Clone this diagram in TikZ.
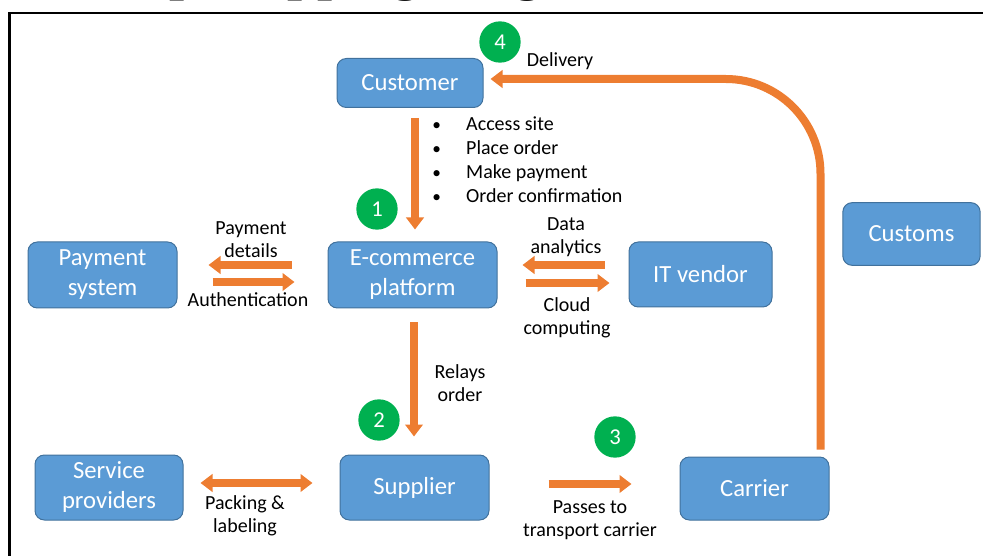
\documentclass[tikz,border=0pt]{standalone}
\usepackage{fontspec}
\setmainfont{Carlito}
\newfontfamily\titlefont{Liberation Serif}
\usetikzlibrary{arrows.meta}
\definecolor{boxblue}{HTML}{5B9BD5}
\definecolor{boxedge}{HTML}{41719C}
\definecolor{arrorange}{HTML}{ED7D31}
\definecolor{stepgreen}{HTML}{00B050}
\tikzset{
 box/.style={draw=boxedge, line width=0.75pt, fill=boxblue, rounded corners=7pt, text=white, align=center, font=\fontsize{18.5}{22.5}\selectfont, inner sep=0pt},
 arr/.style={draw=arrorange, line width=6pt, -{Triangle[width=13pt,length=9pt]}},
 dblarr/.style={draw=arrorange, line width=6pt, {Triangle[width=13pt,length=9pt]}-{Triangle[width=13pt,length=9pt]}},
 lbl/.style={align=center, font=\fontsize{15}{17.25}\selectfont, inner sep=0pt},
 num/.style={circle, fill=stepgreen, text=white, minimum size=31pt, inner sep=0pt, font=\fontsize{17}{17}\selectfont},
}
\newcommand{\smallbul}{{\fontsize{13}{18}\selectfont\textbullet}}
\begin{document}
\begin{tikzpicture}[x=0.75pt, y=-0.75pt]
\useasboundingbox (0,0) rectangle (983,556);
% cut-off title and frame
\node[anchor=base west, inner sep=0pt, font=\titlefont\bfseries\fontsize{40.5}{40}\selectfont] (title) at (80,-10.5) {Drop Shipping Diagram};
\draw[line width=1.9pt] (1000,13) -- (9.5,13) -- (9.5,570);

% boxes
\node[box, minimum width=109.5pt, minimum height=36.75pt] (customer) at (410,83) {Customer};
\node[box, minimum width=111.75pt, minimum height=49.5pt] (pay) at (102.5,275) {Payment\\system};
\node[box, minimum width=126.75pt, minimum height=49.5pt] (ecom) at (412.5,275) {E-commerce\\platform};
\node[box, minimum width=107.25pt, minimum height=48.75pt] (it) at (700.5,274.5) {IT vendor};
\node[box, minimum width=103pt, minimum height=47pt] (customs) at (911.5,234) {Customs};
\node[box, minimum width=111pt, minimum height=48.75pt] (service) at (109,487.5) {Service\\providers};
\node[box, minimum width=111.75pt, minimum height=48.75pt] (supplier) at (414.5,487.5) {Supplier};
\node[box, minimum width=111.75pt, minimum height=47.25pt] (carrier) at (754.5,488.5) {Carrier};

% arrows
\draw[arr] ([shift={(5,10)}]customer.south) -- ([shift={(2.5,-12)}]ecom.north);
\draw[arr] ([shift={(1.5,14)}]ecom.south) -- ([shift={(-0.5,-18)}]supplier.north);
\draw[arr] ([shift={(-36,-10)}]ecom.west) -- ([shift={(31,-10)}]pay.east);
\draw[arr] ([shift={(35,7)}]pay.east) -- ([shift={(-33,7)}]ecom.west);
\draw[arr] ([shift={(-24,-9.5)}]it.west) -- ([shift={(25,-10)}]ecom.east);
\draw[arr] ([shift={(28,8)}]ecom.east) -- ([shift={(-19,8.5)}]it.west);
\draw[arr] ([shift={(59,-3.5)}]supplier.east) -- ([shift={(-48,-4.5)}]carrier.west);
\draw[dblarr] ([shift={(17,-4.5)}]service.east) -- ([shift={(-27,-4.5)}]supplier.west);
\draw[arr, rounded corners=71pt] ([shift={(-9,-7)}]carrier.north east) |- ([shift={(7,-4)}]customer.east);

% step numbers
\node[num] (n4) at (500,42) {4};
\node[num] (n1) at (377,209) {1};
\node[num] (n2) at (379,420) {2};
\node[num] (n3) at (615,437) {3};

% labels
\node[lbl] (ldelivery) at (560,61) {Delivery};
\node[lbl, anchor=west, align=left] (lsteps) at (432,162) {\fontsize{15}{18}\selectfont\begin{tabular}{@{}l@{\hspace{19pt}}l@{}}\smallbul & Access site\\ \smallbul & Place order\\ \smallbul & Make payment\\ \smallbul & Order confirmation\end{tabular}};
\node[lbl] (lpd) at (251,240) {Payment\\details};
\node[lbl] (lauth) at (248,300) {Authentication};
\node[lbl] (lda) at (566,237) {Data\\analytics};
\node[lbl] (lcc) at (567,318) {Cloud\\computing};
\node[lbl] (lrelay) at (460,383) {Relays\\order};
\node[lbl] (lpass) at (590,520) {Passes to\\transport carrier};
\node[lbl] (lpack) at (245,516) {Packing \&\\labeling};
\end{tikzpicture}
\end{document}
